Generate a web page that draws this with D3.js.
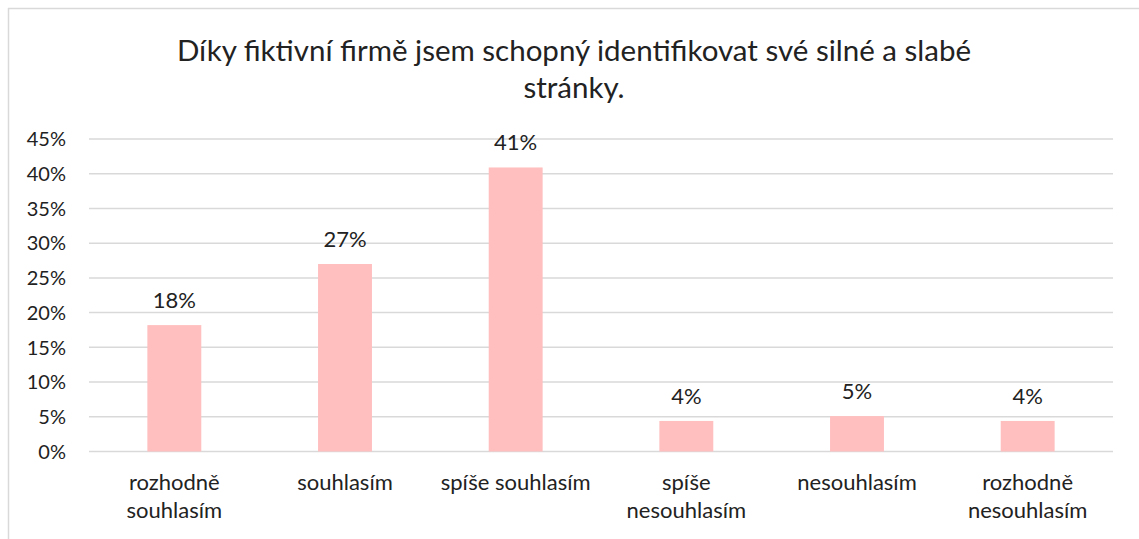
<!DOCTYPE html>
<html>
<head>
<meta charset="utf-8">
<script src="https://cdn.jsdelivr.net/npm/d3@7"></script>
<style>
  body { margin: 0; background: #fff; }
  text { font-family: Lato, "Open Sans", sans-serif; fill: #222; }
</style>
</head>
<body>
<div id="chart"></div>
<script>
// data
const categories = ["rozhodně souhlasím", "souhlasím", "spíše souhlasím", "spíše nesouhlasím", "nesouhlasím", "rozhodně nesouhlasím"];
const values = [18.2, 27.0, 40.9, 4.4, 5.1, 4.4];
const labels = ["18%", "27%", "41%", "4%", "5%", "4%"];
const yTicks = [0, 5, 10, 15, 20, 25, 30, 35, 40, 45];
const titleLines = ["Díky fiktivní firmě jsem schopný identifikovat své silné a slabé", "stránky."];

const width = 1139, height = 539;
const margin = { top: 139, right: 26, bottom: 88, left: 89 };

const svg = d3.select("#chart").append("svg")
  .attr("width", width)
  .attr("height", height);

// outer frame (only top and left edges visible)
svg.append("path")
  .attr("d", `M8.5,${height} V8.5 H${width}`)
  .attr("fill", "none")
  .attr("stroke", "#d9d9d9")
  .attr("stroke-width", 1.5);

const x = d3.scaleBand()
  .domain(categories)
  .range([margin.left, width - margin.right])
  .paddingInner(0.684)
  .paddingOuter(0.342);

const y = d3.scaleLinear()
  .domain([0, 45])
  .range([height - margin.bottom + 0.5, margin.top]);

// title
const title = svg.append("text")
  .attr("text-anchor", "middle")
  .attr("font-size", 29.5);
title.selectAll("tspan")
  .data(titleLines)
  .join("tspan")
  .attr("x", 574)
  .attr("y", (d, i) => 61 + i * 37)
  .text(d => d);

// gridlines
svg.append("g")
  .selectAll("line")
  .data(yTicks)
  .join("line")
  .attr("x1", margin.left)
  .attr("x2", width - margin.right)
  .attr("y1", d => y(d))
  .attr("y2", d => y(d))
  .attr("stroke", "#d9d9d9")
  .attr("stroke-width", 1.5);

// y tick labels
svg.append("g")
  .selectAll("text")
  .data(yTicks)
  .join("text")
  .attr("x", 66)
  .attr("y", d => y(d))
  .attr("dy", "0.36em")
  .attr("text-anchor", "end")
  .attr("font-size", 20)
  .text(d => d + "%");

// bars
svg.append("g")
  .selectAll("rect")
  .data(values)
  .join("rect")
  .attr("x", (d, i) => x(categories[i]))
  .attr("width", x.bandwidth())
  .attr("y", d => y(d))
  .attr("height", d => y(0) - y(d))
  .attr("fill", "#ffbfbf");

// value labels
svg.append("g")
  .selectAll("text")
  .data(values)
  .join("text")
  .attr("x", (d, i) => x(categories[i]) + x.bandwidth() / 2)
  .attr("y", d => y(d) - 17)
  .attr("text-anchor", "middle")
  .attr("font-size", 22)
  .text((d, i) => labels[i]);

// category labels, wrapped like Excel does
const catG = svg.append("g");
categories.forEach((c, i) => {
  const t = catG.append("text")
    .attr("text-anchor", "middle")
    .attr("font-size", 22);
  const cx = x(c) + x.bandwidth() / 2;
  const words = c.split(" ");
  let lines = [], line = [];
  words.forEach(w => {
    const test = line.concat(w).join(" ");
    const probe = t.append("tspan").text(test);
    const len = probe.node().getComputedTextLength();
    probe.remove();
    if (len > 160 && line.length) { lines.push(line.join(" ")); line = [w]; }
    else line.push(w);
  });
  lines.push(line.join(" "));
  t.selectAll("tspan")
    .data(lines)
    .join("tspan")
    .attr("x", cx)
    .attr("y", (d, j) => 490 + j * 28)
    .text(d => d);
});
</script>
</body>
</html>
